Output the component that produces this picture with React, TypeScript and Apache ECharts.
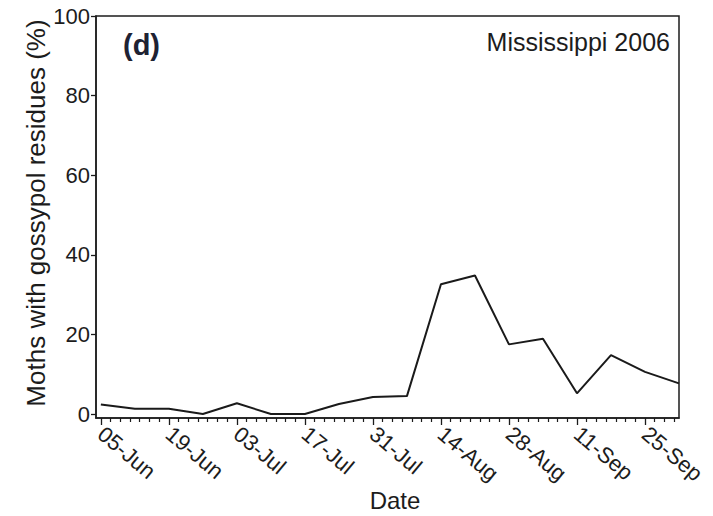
import React, { useEffect, useRef } from "react";
import * as echarts from "echarts";

// Sampling dates (weekly) and % of moths with gossypol residues
const sampleDates = [
  "2006-06-05", "2006-06-12", "2006-06-19", "2006-06-26", "2006-07-03", "2006-07-10",
  "2006-07-17", "2006-07-24", "2006-07-31", "2006-08-07", "2006-08-14", "2006-08-21",
  "2006-08-28", "2006-09-04", "2006-09-11", "2006-09-18", "2006-09-25", "2006-10-02",
];
const gossypolPct = [
  2.4, 1.3, 1.3, 0, 2.7, 0, 0, 2.5, 4.3, 4.5, 32.6, 34.8, 17.5, 18.9, 5.2, 14.8, 10.6, 7.7,
];

// Axis ticks / labels
const xTickLabels = ["05-Jun", "19-Jun", "03-Jul", "17-Jul", "31-Jul", "14-Aug", "28-Aug", "11-Sep", "25-Sep"];
const xTickDates = [
  "2006-06-05", "2006-06-19", "2006-07-03", "2006-07-17", "2006-07-31",
  "2006-08-14", "2006-08-28", "2006-09-11", "2006-09-25",
];
const xAxisStart = "2006-06-04";
const xAxisEnd = "2006-10-02";
const minorTickStepDays = 2;
const yTicks = [0, 20, 40, 60, 80, 100];

const ORIGIN = Date.UTC(2006, 5, 5);
const dayOf = (s: string) => {
  const [y, m, d] = s.split("-").map(Number);
  return Math.round((Date.UTC(y, m - 1, d) - ORIGIN) / 86400000);
};

const FONT = "'Liberation Sans', Arial, Helvetica, sans-serif";
const INK = "#1c1c1c";

export default function App() {
  const ref = useRef<HTMLDivElement>(null);

  useEffect(() => {
    if (!ref.current) return;
    const chart = echarts.init(ref.current, undefined, { renderer: "svg" });

    const majorDays = xTickDates.map(dayOf);
    const xMin = dayOf(xAxisStart);
    const xMax = dayOf(xAxisEnd);
    const minorDays: number[] = [];
    for (let d = 0; d <= xMax; d += minorTickStepDays) {
      if (!majorDays.includes(d)) minorDays.push(d);
    }
    const seriesData = sampleDates.map((s, i) => [dayOf(s), gossypolPct[i]]);

    chart.setOption({
      animation: false,
      backgroundColor: "#fff",
      grid: {
        left: 96,
        right: 34,
        top: 16,
        bottom: 98,
        show: true,
        borderColor: INK,
        borderWidth: 1.5,
        backgroundColor: "transparent",
      },
      xAxis: [
        {
          type: "value",
          min: xMin,
          max: xMax,
          axisLine: { show: true, onZero: false, lineStyle: { color: INK, width: 1.5 } },
          axisTick: { show: true, customValues: majorDays, length: 7, lineStyle: { color: INK, width: 1.3 } },
          axisLabel: {
            customValues: majorDays,
            rotate: -40,
            margin: 13,
            fontFamily: FONT,
            fontSize: 22,
            color: INK,
            formatter: (v: number) => {
              const i = majorDays.indexOf(v);
              return i >= 0 ? xTickLabels[i] : "";
            },
          },
          splitLine: { show: false },
        },
        {
          type: "value",
          position: "bottom",
          min: xMin,
          max: xMax,
          axisLine: { show: false, onZero: false },
          axisTick: { show: true, customValues: minorDays, length: 4, lineStyle: { color: INK, width: 1.2 } },
          axisLabel: { show: false },
          splitLine: { show: false },
        },
      ],
      yAxis: {
        type: "value",
        min: -1,
        max: 100,
        axisLine: { show: true, onZero: false, lineStyle: { color: INK, width: 1.5 } },
        axisTick: { show: true, customValues: yTicks, length: 5, lineStyle: { color: INK, width: 1.3 } },
        axisLabel: {
          customValues: yTicks,
          margin: 6,
          fontFamily: FONT,
          fontSize: 22,
          color: INK,
        },
        splitLine: { show: false },
      },
      series: [
        {
          type: "line",
          data: seriesData,
          xAxisIndex: 0,
          symbol: "none",
          lineStyle: { color: "#1a1a1a", width: 2 },
        },
      ],
      graphic: [
        {
          type: "text",
          x: 123,
          y: 45,
          style: {
            text: "(d)",
            font: `bold 29px ${FONT}`,
            fill: "#1e2233",
            align: "left",
            verticalAlign: "middle",
            textAlign: "left",
            textVerticalAlign: "middle",
          },
        },
        {
          type: "text",
          x: 670,
          y: 42,
          style: {
            text: "Mississippi 2006",
            font: `25px ${FONT}`,
            fill: INK,
            align: "right",
            verticalAlign: "middle",
            textAlign: "right",
            textVerticalAlign: "middle",
          },
        },
        {
          type: "text",
          x: 395,
          y: 500,
          style: {
            text: "Date",
            font: `24px ${FONT}`,
            fill: INK,
            align: "center",
            verticalAlign: "middle",
            textAlign: "center",
            textVerticalAlign: "middle",
          },
        },
        {
          type: "text",
          x: 36,
          y: 213,
          rotation: Math.PI / 2,
          style: {
            text: "Moths with gossypol residues (%)",
            font: `26px ${FONT}`,
            fill: INK,
            align: "center",
            verticalAlign: "middle",
            textAlign: "center",
            textVerticalAlign: "middle",
          },
        },
      ],
    });

    return () => chart.dispose();
  }, []);

  return <div ref={ref} style={{ width: 713, height: 516, position: "absolute", left: 0, top: 0 }} />;
}
